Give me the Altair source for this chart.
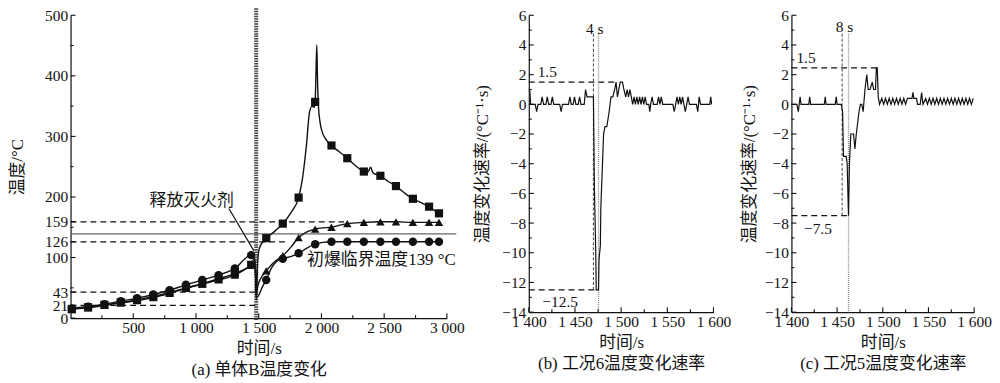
import altair as alt
import pandas as pd

FONT = "'Liberation Serif', 'Noto Sans CJK SC', serif"

# ---------------- Panel (a) data ----------------
mark_t = [10, 140, 270, 400, 530, 660, 790, 920, 1050, 1180, 1310, 1440,
          1560, 1692, 1818, 1950, 2080, 2206, 2338, 2470, 2594, 2729, 2858, 2937]
sq_mark = [15, 18, 22, 26, 30, 36, 42, 50, 57, 65, 74, 88,
           132, 156, 199, 357, 285, 264, 242, 235, 218, 197, 184, 173]
ci_mark = [16, 19, 23, 28, 33, 39, 46, 55, 63, 71, 82, 104,
           63, 98, 107, 122, 126, 126, 126, 126, 126, 126, 126, 126]
tr_mark = [14, 17, 21, 25, 29, 34, 41, 49, 56, 63, 71, 87,
           78, 103, 133, 147, 150, 156, 158, 159, 159, 158, 158, 158]

sq_line_t = [0, 10, 140, 270, 400, 530, 660, 790, 920, 1050, 1180, 1310, 1440, 1462,
             1474, 1480, 1485, 1492, 1505, 1530, 1560, 1620, 1692, 1760, 1818, 1850,
             1880, 1905, 1925, 1942, 1950, 1956, 1963, 1968, 1976, 1990, 2010, 2040,
             2080, 2140, 2206, 2270, 2338, 2370, 2392, 2410, 2440, 2470, 2530, 2594,
             2660, 2729, 2790, 2858, 2900, 2937]
sq_line_v = [14, 15, 18, 22, 26, 30, 36, 42, 50, 57, 65, 74, 88, 98,
             80, 30, 55, 95, 115, 125, 132, 142, 156, 175, 199, 232,
             285, 340, 350, 348, 357, 400, 451, 400, 350, 322, 305, 294,
             285, 275, 264, 252, 242, 241, 249, 240, 237, 235, 226, 218,
             207, 197, 191, 184, 178, 173]

tr_line_t = [0, 10, 140, 270, 400, 530, 660, 790, 920, 1050, 1180, 1310, 1440, 1466,
             1476, 1481, 1488, 1500, 1530, 1560, 1620, 1692, 1760, 1818, 1880, 1950,
             2010, 2080, 2140, 2206, 2338, 2470, 2594, 2729, 2858, 2937]
tr_line_v = [13, 14, 17, 21, 25, 29, 34, 41, 49, 56, 63, 71, 87, 90,
             65, 38, 48, 58, 70, 78, 92, 103, 118, 133, 142, 147,
             149, 150, 153, 156, 158, 159, 159, 158, 158, 158]

ci_line_t = [0, 10, 140, 270, 400, 530, 660, 790, 920, 1050, 1180, 1310, 1440, 1466,
             1476, 1482, 1490, 1505, 1530, 1560, 1600, 1640, 1692, 1760, 1818, 1880,
             1950, 2010, 2080, 2206, 2338, 2470, 2594, 2729, 2858, 2937]
ci_line_v = [15, 16, 19, 23, 28, 33, 39, 46, 55, 63, 71, 82, 104, 100,
             70, 36, 35, 40, 52, 63, 82, 93, 98, 102, 107, 115,
             122, 125, 126, 126, 126, 126, 126, 126, 126, 126]

ref_dash_v = [21, 43, 126, 159]
ref_dash_end = [1480, 1480, 1720, 2180]
crit_temp = 139
release_t = 1480

a_y_labels = [0, 21, 43, 100, 126, 159, 200, 300, 400, 500]
a_y_minor = [50, 150, 250, 350, 450]
a_x_labels = [500, 1000, 1500, 2000, 2500, 3000]
a_x_minor = [250, 750, 1250, 1750, 2250, 2750]

# ---------------- Panel (b) data ----------------
b_t = [1400, 1401, 1402, 1407, 1408.5, 1410, 1413, 1414.5, 1416, 1418.5, 1420, 1421.5,
       1424, 1425.5, 1427, 1433.5, 1435, 1436.5, 1443, 1444.5, 1446, 1448, 1449.5, 1451,
       1453.5, 1455, 1456.5, 1460, 1461.5, 1463, 1470, 1471, 1472.5, 1473, 1475.5, 1476,
       1477.5, 1478, 1479.5, 1481, 1482.5, 1484.5, 1487, 1489, 1491, 1493, 1494.5, 1496,
       1497.5, 1499, 1501.5, 1503, 1505, 1506.5, 1508, 1509.5, 1511, 1512.5, 1514, 1515.5,
       1517, 1518.5, 1520, 1521.5, 1523, 1524.5, 1526, 1527.5, 1530, 1531, 1532, 1533.5,
       1535, 1539, 1540.5, 1542, 1543.5, 1545, 1556, 1557.5, 1559, 1560.5, 1562, 1563.5,
       1565, 1566.5, 1568, 1569.5, 1571, 1572.5, 1574, 1581.5, 1583, 1584.5, 1586, 1596,
       1597, 1598]
b_v = [1.0, 1.0, 0, 0, -0.5, 0, 0, 0.5, 0, 0, 0.5, 0,
       0, 0.5, 0, 0, -0.5, 0, 0, 0.5, 0, 0, 0.5, 0,
       0, 0.5, 0, 0, 1.0, 0.5, 0.5, -5.5, -10, -12.5, -12.5, -10.5,
       -9.5, -7, -4.5, -2, -1.5, -1.5, -0.5, 0.5, 0.5, 1.0, 1.5, 0.5,
       1.0, 1.5, 1.5, 1.0, 0.5, 1.0, 0.5, 1.0, 0.5, 0, 0.5, 0,
       0.5, 0, 0.5, 0, 0.5, 0, 0.5, 0, 0, -0.5, 0, 0.5,
       0, 0, 0.5, 0, 0.5, 0, 0, -0.5, 0, 0.5, 0, 0.5,
       0, 0.5, 0, -0.5, 0, 0.5, 0, 0, -0.5, 0.5, 0, 0,
       0.5, 0]
b_hi, b_lo = 1.5, -12.5
b_hi_end, b_lo_end = 1494.5, 1473
b_dash_t, b_dot_t = 1470, 1475.5

# ---------------- Panel (c) data ----------------
c_t = [1400, 1406, 1407.5, 1408.5, 1409.5, 1410.5, 1419, 1420, 1421, 1436, 1437, 1438,
       1448, 1449, 1450, 1454.5, 1456, 1457, 1460, 1461, 1462.5, 1463.5, 1465, 1468,
       1469.5, 1471, 1474, 1475.5, 1477, 1478.5, 1480.5, 1482.5, 1484, 1486, 1488.5, 1490,
       1492, 1493, 1494, 1495, 1496.5, 1499, 1501, 1503, 1505, 1507, 1509, 1511, 1513,
       1515, 1517, 1519, 1521, 1523, 1525, 1527, 1529, 1532, 1533, 1534, 1537, 1538,
       1541, 1542.5, 1544, 1547, 1549, 1551, 1553, 1555, 1557, 1559, 1561, 1563, 1565,
       1567, 1569, 1571, 1573, 1575, 1577, 1579, 1581, 1583, 1585, 1587, 1589, 1591,
       1593, 1595, 1597, 1599]
c_v = [0, 0, -0.5, 0, 0.5, 0, 0, 0.5, 0, 0, 0.5, 0,
       0, 0.5, 0, 0, -0.5, -3.5, -3.5, -4, -7.5, -4, -2, -2,
       -3, -2, -0.5, 0, 0, -0.5, 1.0, 2.0, 1.0, 1.0, 1.5, 1.0,
       1.0, 2.45, 2.45, 0.5, 0, 0.4, 0, 0.4, 0, 0.4, 0, 0.4, 0,
       0.4, 0, 0.4, 0, 0.4, 0, 0.4, 0.4, 0.4, 0.8, 0.4, 0.4, 0,
       0, 0.8, 0, 0.4, 0, 0.4, 0, 0.4, 0, 0.4, 0, 0.4, 0,
       0.4, 0, 0.4, 0, 0.4, 0, 0.4, 0, 0.4, 0, 0.4, 0, 0.4,
       0, 0.4, 0, 0.4]
c_hi, c_lo = 2.45, -7.5
c_hi_end, c_lo_end = 1496.5, 1462.5
c_dash_t, c_dot_t = 1455.5, 1462.5

rate_y_labels = [-14, -12, -10, -8, -6, -4, -2, 0, 2, 4, 6]
rate_y_minor = [-13, -11, -9, -7, -5, -3, -1, 1, 3, 5]
rate_x_labels = [1400, 1450, 1500, 1550, 1600]
rate_x_minor = [1425, 1475, 1525, 1575]

LBL = "replace(format(datum.value, ','), ',', ' ')"
BLACK = "#111111"


def axis_common(**kw):
    base = dict(grid=False, ticks=False, domainColor=BLACK, domainWidth=1.2,
                labelFont=FONT, labelFontSize=15.5, labelColor=BLACK,
                titleFont=FONT, titleFontSize=17, titleFontWeight="normal",
                titleColor=BLACK, labelOverlap=False, labelFlush=False)
    base.update(kw)
    return alt.Axis(**base)


def make_panel(W, H, xdom, ydom, xaxis, yaxis, layers_fn):
    xs = alt.Scale(domain=xdom, nice=False, zero=False)
    ys = alt.Scale(domain=ydom, nice=False, zero=False)

    def X(f):
        return alt.X(f, type="quantitative", scale=xs, axis=xaxis)

    def Y(f):
        return alt.Y(f, type="quantitative", scale=ys, axis=yaxis)

    layers = layers_fn(X, Y, H)
    return alt.layer(*layers).properties(width=W, height=H)


def tick_layers(X, Y, H, xmaj, xmin, ymaj, ymin):
    out = []
    for vals, ln in ((xmaj, 5), (xmin, 3)):
        out.append(alt.Chart(pd.DataFrame({"t": vals})).mark_rule(color=BLACK, strokeWidth=1.1)
                   .encode(x=X("t"), y=alt.value(H), y2=alt.value(H - ln)))
    for vals, ln in ((ymaj, 5), (ymin, 3)):
        out.append(alt.Chart(pd.DataFrame({"v": vals})).mark_rule(color=BLACK, strokeWidth=1.1)
                   .encode(y=Y("v"), x=alt.value(0), x2=alt.value(ln)))
    return out


# ---------------- Panel (a) ----------------
a_xaxis = axis_common(values=a_x_labels, labelExpr=LBL, labelPadding=2,
                      title=["时间/s", "(a) 单体B温度变化"], titlePadding=5, titleLineHeight=21)
a_yaxis = axis_common(values=a_y_labels, labelPadding=3, title="温度/°C", titlePadding=18)


def a_layers(X, Y, H):
    L = []
    dash_df = pd.DataFrame({"s": [0] * len(ref_dash_v), "e": ref_dash_end, "v": ref_dash_v})
    L.append(alt.Chart(dash_df).mark_rule(color=BLACK, strokeWidth=1.2, strokeDash=[6, 4])
             .encode(x=X("s"), x2="e", y=Y("v")))
    crit_df = pd.DataFrame({"s": [0], "e": [3075], "v": [crit_temp]})
    L.append(alt.Chart(crit_df).mark_rule(color="#666666", strokeWidth=1.4)
             .encode(x=X("s"), x2="e", y=Y("v")))
    rel_df = pd.DataFrame({"t": [release_t]})
    L.append(alt.Chart(rel_df).mark_rule(color="#444444", strokeWidth=4, strokeDash=[1.5, 1])
             .encode(x=X("t"), y=alt.value(-7), y2=alt.value(H + 2)))
    for tt, vv in ((sq_line_t, sq_line_v), (tr_line_t, tr_line_v), (ci_line_t, ci_line_v)):
        df = pd.DataFrame({"t": tt, "v": vv})
        L.append(alt.Chart(df).mark_line(color=BLACK, strokeWidth=1.4, interpolate="monotone")
                 .encode(x=X("t"), y=Y("v")))
    for vv, shape, size in ((sq_mark, "square", 68), (tr_mark, "triangle-up", 72), (ci_mark, "circle", 72)):
        df = pd.DataFrame({"t": mark_t, "v": vv})
        L.append(alt.Chart(df).mark_point(shape=shape, size=size, filled=True, color=BLACK, opacity=1)
                 .encode(x=X("t"), y=Y("v")))
    arrow_df = pd.DataFrame({"t": [1262, 1462], "v": [181, 111]})
    L.append(alt.Chart(arrow_df).mark_line(color=BLACK, strokeWidth=1.2)
             .encode(x=X("t"), y=Y("v")))
    txt_df = pd.DataFrame({"t": [966, 2478], "v": [193, 96],
                           "s": ["释放灭火剂", "初爆临界温度139 °C"]})
    L.append(alt.Chart(txt_df).mark_text(font=FONT, fontSize=17, color=BLACK)
             .encode(x=X("t"), y=Y("v"), text="s:N"))
    L += tick_layers(X, Y, H, a_x_labels, a_x_minor, a_y_labels, a_y_minor)
    return L


panel_a = make_panel(379, 305, [0, 3000], [0, 500], a_xaxis, a_yaxis, a_layers)


# ---------------- Panels (b), (c) ----------------
def rate_panel(W, tt, vv, hi, lo, hi_end, lo_end, dash_t, dot_t, lbl_sec, hi_lbl_pos, lo_lbl_pos,
               sec_lbl_pos, caption, title_pad):
    xaxis = axis_common(values=rate_x_labels, labelExpr=LBL, labelPadding=2,
                        title=["时间/s", caption], titlePadding=5, titleLineHeight=21)
    yaxis = axis_common(values=rate_y_labels, labelPadding=3, title="温度变化速率/(°C⁻¹·s)",
                        titlePadding=title_pad)
    lo_text = "−" + str(abs(lo)).rstrip("0").rstrip(".")

    def layers(X, Y, H):
        L = []
        hl = pd.DataFrame({"s": [1400, 1400], "e": [hi_end, lo_end], "v": [hi, lo]})
        L.append(alt.Chart(hl).mark_rule(color=BLACK, strokeWidth=1.3, strokeDash=[6, 4])
                 .encode(x=X("s"), x2="e", y=Y("v")))
        vd = pd.DataFrame({"t": [dash_t], "a": [4.75], "b": [lo]})
        L.append(alt.Chart(vd).mark_rule(color="#555555", strokeWidth=1.1, strokeDash=[3, 2])
                 .encode(x=X("t"), y=Y("a"), y2="b"))
        vt = pd.DataFrame({"t": [dot_t], "a": [4.75], "b": [-14]})
        L.append(alt.Chart(vt).mark_rule(color="#888888", strokeWidth=1.3, strokeDash=[1, 1])
                 .encode(x=X("t"), y=Y("a"), y2="b"))
        df = pd.DataFrame({"t": tt, "v": vv})
        L.append(alt.Chart(df).mark_line(color=BLACK, strokeWidth=1.2)
                 .encode(x=X("t"), y=Y("v")))
        tdf = pd.DataFrame({"t": [sec_lbl_pos[0], hi_lbl_pos[0], lo_lbl_pos[0]],
                            "v": [sec_lbl_pos[1], hi_lbl_pos[1], lo_lbl_pos[1]],
                            "s": [lbl_sec, "1.5", lo_text]})
        L.append(alt.Chart(tdf).mark_text(font=FONT, fontSize=15.5, color=BLACK)
                 .encode(x=X("t"), y=Y("v"), text="s:N"))
        L += tick_layers(X, Y, H, rate_x_labels, rate_x_minor, rate_y_labels, rate_y_minor)
        return L

    return make_panel(W, 299, [1400, 1600], [-14, 6], xaxis, yaxis, layers)


panel_b = rate_panel(186, b_t, b_v, b_hi, b_lo, b_hi_end, b_lo_end, b_dash_t, b_dot_t, "4 s",
                     (1420, 2.2), (1434, -13.3), (1471.5, 5.1), "(b) 工况6温度变化速率", 10)
panel_c = rate_panel(184, c_t, c_v, c_hi, c_lo, c_hi_end, c_lo_end, c_dash_t, c_dot_t, "8 s",
                     (1416, 3.15), (1429, -8.4), (1458, 5.2), "(c) 工况5温度变化速率", 6)

chart = alt.hconcat(panel_a, panel_b, panel_c, spacing=8.5).configure_view(stroke=None) \
    .properties(padding={"left": 0, "top": -3, "right": 0, "bottom": 0}, background="white")

chart.save("out.html", embed_options={"renderer": "svg", "actions": False})
